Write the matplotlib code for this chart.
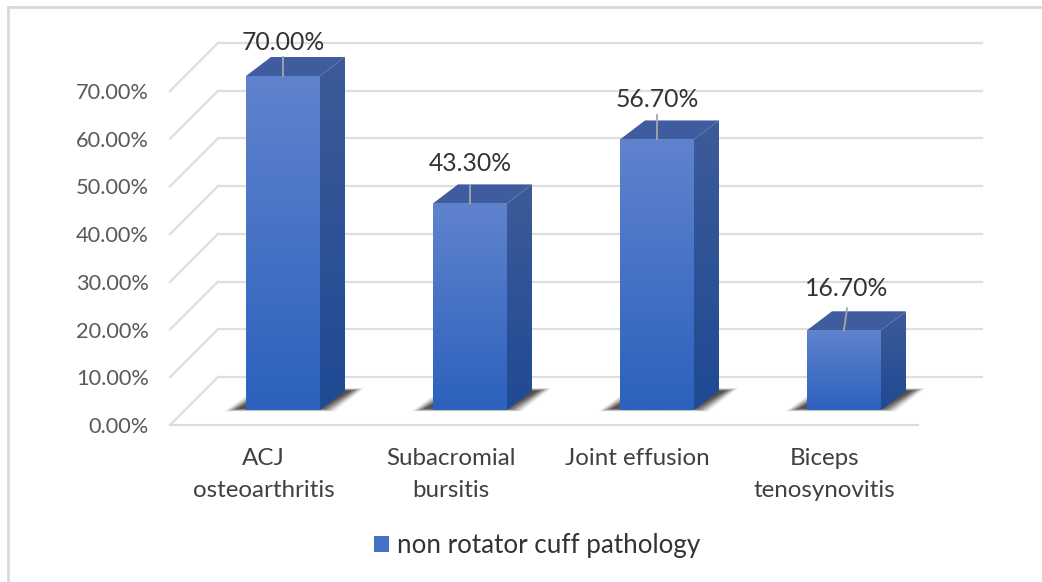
import numpy as np
import matplotlib
matplotlib.use("Agg")
from matplotlib import pyplot as plt
from matplotlib.patches import Patch, Polygon
from matplotlib.lines import Line2D
from matplotlib.colors import LinearSegmentedColormap
from matplotlib.transforms import Affine2D

plt.rcParams['font.family'] = ['Lato', 'DejaVu Sans']

categories = ["ACJ\nosteoarthritis", "Subacromial\nbursitis", "Joint effusion", "Biceps\ntenosynovitis"]
values = [70.0, 43.3, 56.7, 16.7]
value_labels = ["70.00%", "43.30%", "56.70%", "16.70%"]
ticks = [0, 10, 20, 30, 40, 50, 60, 70]
tick_labels = ["0.00%", "10.00%", "20.00%", "30.00%", "40.00%", "50.00%", "60.00%", "70.00%"]
series_name = "non rotator cuff pathology"

# data label placement, pixels from the top of each bar
label_lift = [22, 28, 28, 30]
label_side = [0, 0, 0, 3]
leader_len = [19, 18, 24, 22]
leader_tilt = [0, 0, 0, 3]

W, H = 1042, 582
fig = plt.figure(figsize=(W/100, H/100), dpi=100, facecolor="white")

#############################################################
# Axes = front plane of the 3D box, in pixels of the picture
#############################################################
left, right, bottom, top = 170, 918, 425, 91
ax = fig.add_axes([left/W, 1-bottom/H, (right-left)/W, (bottom-top)/H])
ax.set_xlim(0, 4)
ax.set_ylim(0, 70)
ax.patch.set_alpha(0)
for s in ["top", "left", "right"]:
    ax.spines[s].set_visible(False)
ax.spines["bottom"].set_color("#dcdcdc")
ax.spines["bottom"].set_linewidth(1.6)
ax.set_yticks(ticks)
ax.set_yticklabels(tick_labels, fontsize=15.7, color="#595959")
xpos = np.arange(len(categories)) + 0.5
ax.set_xticks(xpos)
ax.set_xticklabels(categories, fontsize=17.4, color="#404040", linespacing=1.67)
ax.tick_params(axis="y", length=0, pad=15.3)
ax.tick_params(axis="x", length=0, pad=16.5)


def shift(dx, dy):
    # depth is a fixed pixel offset from the front plane
    return ax.transData + Affine2D().translate(dx, dy)


BACK = shift(48, 48)
FRONT_BAR = shift(19.5, 15)
BAR_W = 74 / 187.0
PX_X = 4 / 748.0
PX_Y = 70 / 334.0
DEPTH_X, DEPTH_Y = 25, 19

# walls
for t in ticks:
    ax.plot([0, (982-218)*PX_X], [t, t], color="#dedede", lw=1.6, transform=BACK, clip_on=False, zorder=1)
    ax.plot([0, 48*PX_X], [t, t+48*PX_Y], color="#dedede", lw=1.6, clip_on=False, zorder=1)

front_cmap = LinearSegmentedColormap.from_list("front", ["#6083cd", "#2c61bd"])
side_cmap = LinearSegmentedColormap.from_list("side", ["#3d5b99", "#1f4a94"])
grad = np.linspace(0, 1, 256).reshape(-1, 1)

for i, (x, v) in enumerate(zip(xpos, values)):
    x0, x1 = x - BAR_W/2, x + BAR_W/2
    dxd, dyd = DEPTH_X*PX_X, DEPTH_Y*PX_Y

    # floor shadow, stacked to fake the soft edge
    for k in np.arange(0, 16, 1.0):
        sx, sy = k*PX_X, k*0.2*PX_Y
        sh = Polygon([(x0 - 22*PX_X + sx, -1.5*PX_Y + sy), (x1 + 15*PX_X - sx, -1.5*PX_Y + sy),
                      (x1 + 45*PX_X - sx, 22*PX_Y - sy), (x0 + 10*PX_X + sx, 22*PX_Y - sy)],
                     closed=True, fc="#3f3b35", ec="none", alpha=0.03 + k*0.012, transform=FRONT_BAR, zorder=2,
                     clip_on=False)
        ax.add_patch(sh)

    # side face
    side = Polygon([(x1, 0), (x1+dxd, dyd), (x1+dxd, v+dyd), (x1, v)], closed=True, fc="none", ec="none",
                   transform=FRONT_BAR, zorder=3, clip_on=False)
    ax.add_patch(side)
    im = ax.imshow(grad, cmap=side_cmap, extent=[x1, x1+dxd, 0, v+dyd], aspect="auto", transform=FRONT_BAR,
                   zorder=3)
    im.set_clip_path(side)
    im.set_clip_box(fig.bbox)

    # top face
    ax.add_patch(Polygon([(x0, v), (x1, v), (x1+dxd, v+dyd), (x0+dxd, v+dyd)], closed=True, fc="#3f5c9e", ec="none",
                         transform=FRONT_BAR, zorder=3, clip_on=False))

    # front face
    ax.imshow(grad, cmap=front_cmap, extent=[x0, x1, 0, v], aspect="auto", transform=FRONT_BAR,
              zorder=4, clip_on=False)

    # leader line and value label
    ax.plot([x, x + leader_tilt[i]*PX_X], [v, v + leader_len[i]*PX_Y], color="#a6a6a6", lw=1.3,
            transform=FRONT_BAR, zorder=5, clip_on=False)
    ax.annotate(value_labels[i], (x, v), xycoords=FRONT_BAR, xytext=(label_side[i], label_lift[i]),
                textcoords="offset pixels", ha="center", va="bottom", fontsize=17.8, color="#333333",
                zorder=6, annotation_clip=False)

ax.set_xlim(0, 4)
ax.set_ylim(0, 70)

# picture frame, open at the right and bottom edge
fig.add_artist(Line2D([8/W, 8/W], [0, 1-7/H], color="#d9d9d9", lw=2))
fig.add_artist(Line2D([8/W, 1], [1-7/H, 1-7/H], color="#d9d9d9", lw=2))

fig.legend(handles=[Patch(fc="#4472c4", ec="none", label=series_name)], loc="center",
           bbox_to_anchor=(537/W, 1-546/H), frameon=False, fontsize=18.7, labelcolor="#333333",
           handlelength=0.58, handleheight=0.58, handletextpad=0.28)

fig.savefig("out.png", dpi=100)
